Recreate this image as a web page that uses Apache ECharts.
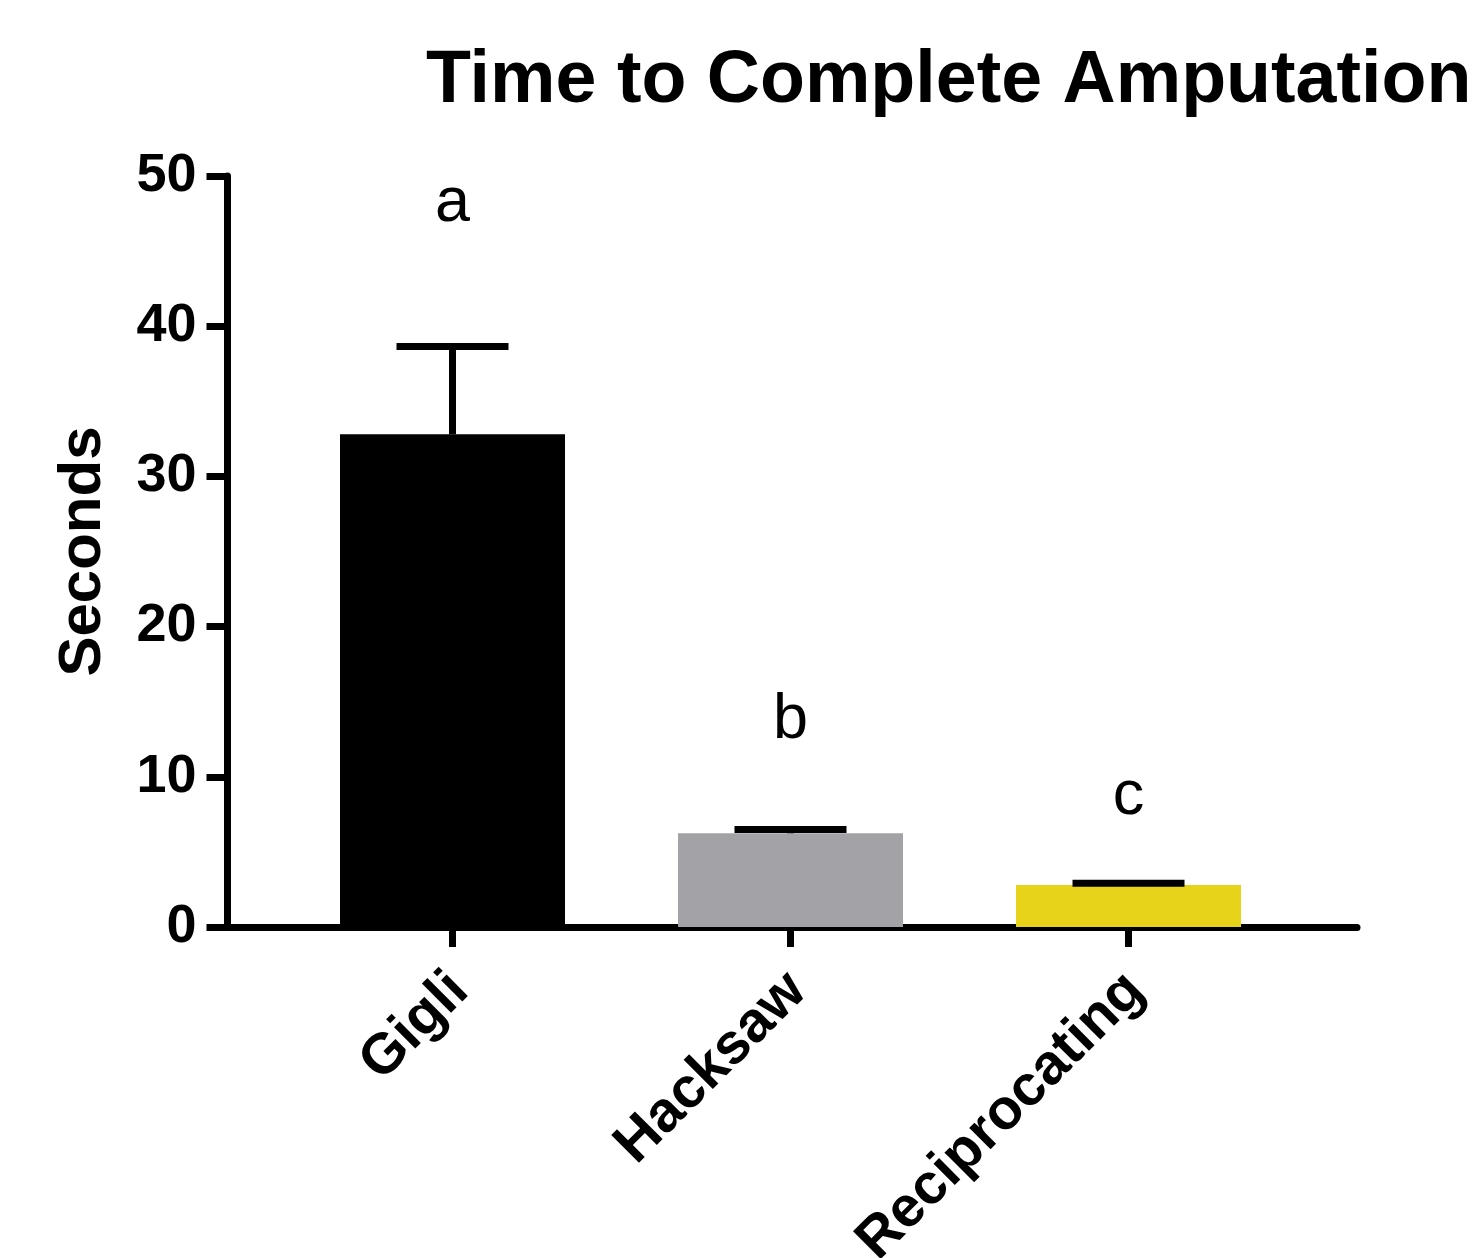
<!DOCTYPE html>
<html>
<head>
<meta charset="utf-8">
<script src="https://cdn.jsdelivr.net/npm/echarts@6/dist/echarts.min.js"></script>
<style>
html,body{margin:0;padding:0;background:#fff;}
#chart{width:1478px;height:1258px;}
</style>
</head>
<body>
<div id="chart"></div>
<script>
const categories = ['Gigli', 'Hacksaw', 'Reciprocating'];
const means = [32.8, 6.24, 2.8];
const errorTops = [38.65, 6.49, 2.92];
const letters = ['a', 'b', 'c'];
const letterValues = [48.15, 13.75, 8.7];
const barColors = ['#000000', '#a3a2a7', '#e7d31a'];

const FONT = '"Liberation Sans", Arial, Helvetica, sans-serif';
const chart = echarts.init(document.getElementById('chart'), null, {renderer: 'canvas'});

const idx = categories.map((c, i) => i);

chart.setOption({
  animation: false,
  backgroundColor: '#ffffff',
  title: {
    text: 'Time to Complete Amputation',
    left: 421,
    top: 40,
    textStyle: {fontFamily: FONT, fontWeight: 'bold', fontSize: 73.6, color: '#000'}
  },
  grid: {left: 227.5, right: 121, top: 176, bottom: 331, containLabel: false, outerBoundsMode: 'none'},
  xAxis: {
    type: 'value',
    min: -0.6657,
    max: 2.676,
    splitLine: {show: false},
    axisLine: {show: true, onZero: false, lineStyle: {color: '#000', width: 7}},
    axisTick: {show: true, customValues: idx, length: 20, lineStyle: {color: '#000', width: 7}},
    axisLabel: {
      show: true,
      customValues: idx,
      rotate: 45,
      margin: 62,
      padding: [0, -10, 0, 0],
      formatter: v => categories[Math.round(v)],
      fontFamily: FONT, fontWeight: 'bold', fontSize: 57, color: '#000'
    }
  },
  yAxis: {
    type: 'value',
    min: 0,
    max: 50,
    interval: 10,
    name: 'Seconds',
    nameLocation: 'middle',
    nameGap: 114,
    nameTextStyle: {fontFamily: FONT, fontWeight: 'bold', fontSize: 60, color: '#000'},
    splitLine: {show: false},
    axisLine: {show: true, onZero: false, lineStyle: {color: '#000', width: 7}},
    axisTick: {show: true, length: 21, lineStyle: {color: '#000', width: 7}},
    axisLabel: {
      margin: 31,
      formatter: v => String(v),
      fontFamily: FONT, fontWeight: 'bold', fontSize: 54, color: '#000'
    }
  },
  series: [
    {
      type: 'bar',
      barWidth: 225,
      data: means.map((m, i) => ({value: [i, m], itemStyle: {color: barColors[i]}})),
      z: 2
    },
    {
      type: 'custom',
      z: 3,
      data: means.map((m, i) => [i, m, errorTops[i]]),
      renderItem: function (params, api) {
        const x = api.value(0);
        const p0 = api.coord([x, api.value(1)]);
        const p1 = api.coord([x, api.value(2)]);
        const half = 56;
        return {
          type: 'group',
          children: [
            {type: 'line', shape: {x1: p0[0], y1: p0[1], x2: p1[0], y2: p1[1]},
             style: {stroke: '#000', lineWidth: 7}},
            {type: 'line', shape: {x1: p1[0] - half, y1: p1[1], x2: p1[0] + half, y2: p1[1]},
             style: {stroke: '#000', lineWidth: 7}}
          ]
        };
      }
    },
    {
      type: 'custom',
      z: 4,
      data: letterValues.map((v, i) => [i, v]),
      renderItem: function (params, api) {
        const p = api.coord([api.value(0), api.value(1)]);
        return {
          type: 'text',
          x: p[0],
          y: p[1],
          style: {
            text: letters[params.dataIndex],
            fill: '#000000',
            font: '63px ' + FONT,
            align: 'center',
            verticalAlign: 'middle'
          }
        };
      }
    }
  ]
});
</script>
</body>
</html>
